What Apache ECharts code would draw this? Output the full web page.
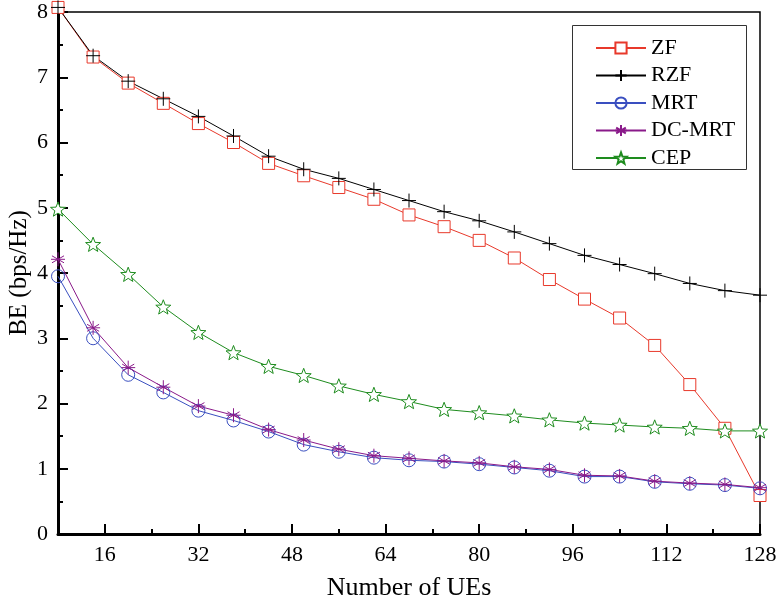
<!DOCTYPE html>
<html>
<head>
<meta charset="utf-8">
<script src="https://cdn.jsdelivr.net/npm/echarts@6/dist/echarts.min.js"></script>
<style>html,body{margin:0;padding:0;background:#fff}#c{width:778px;height:604px}</style>
</head>
<body>
<div id="c"></div>
<script>
const ues = [8,14,20,26,32,38,44,50,56,62,68,74,80,86,92,98,104,110,116,122,128];
const zf   = [8.07,7.31,6.91,6.60,6.29,6.00,5.68,5.49,5.31,5.13,4.89,4.71,4.50,4.23,3.90,3.60,3.31,2.89,2.29,1.62,0.59];
const rzf  = [8.07,7.33,6.94,6.67,6.40,6.10,5.79,5.59,5.45,5.28,5.11,4.94,4.80,4.63,4.45,4.27,4.13,3.99,3.84,3.73,3.66];
const mrt  = [3.95,3.00,2.44,2.17,1.89,1.74,1.57,1.37,1.26,1.17,1.13,1.11,1.07,1.02,0.97,0.88,0.88,0.80,0.77,0.75,0.70];
const dcmrt= [4.21,3.16,2.55,2.25,1.96,1.82,1.60,1.44,1.30,1.20,1.16,1.12,1.09,1.03,0.99,0.90,0.89,0.81,0.78,0.76,0.71];
const cep  = [4.98,4.44,3.98,3.48,3.09,2.78,2.57,2.43,2.27,2.14,2.03,1.91,1.86,1.81,1.75,1.70,1.67,1.64,1.62,1.58,1.58];
const xMajor = [16,32,48,64,80,96,112,128];

const FONT = "Liberation Serif, serif";
const pair = arr => arr.map((v,i)=>[ues[i], v]);
const PLUS = 'path://M0,5L10,5M5,0L5,10';
const AST = 'path://M5,0L5,10M0.7,2.5L9.3,7.5M0.7,7.5L9.3,2.5M0,5L10,5';
const STAR = 'path://M5,0L6.234,3.301L9.755,3.455L6.997,5.649L7.939,9.045L5,7.1L2.061,9.045L3.003,5.649L0.245,3.455L3.766,3.301Z';

function mk(name, data, color, symbol, size, fill){
  return {
    name, type:'line', xAxisIndex:0, data: pair(data), symbol, symbolSize: size, symbolKeepAspect:true,
    showAllSymbol:true, clip:false,
    lineStyle:{color, width:1},
    itemStyle:{color: fill, borderColor: color, borderWidth: 1},
    emphasis:{disabled:true}, animation:false
  };
}

const chart = echarts.init(document.getElementById('c'), null, {renderer:'canvas'});
chart.setOption({
  animation:false,
  backgroundColor:'#fff',
  textStyle:{fontFamily:FONT},
  grid:{left:58, right:18, top:12, bottom:70, containLabel:false, outerBoundsMode:'none',
        show:true, borderColor:'#000', borderWidth:1.5, backgroundColor:'transparent'},
  graphic:[{type:'rect', left:572, top:25, z:5,
    shape:{width:174, height:144}, style:{fill:'#fff', stroke:'#333', lineWidth:1}}],
  legend:{
    orient:'vertical', left:595, top:37, itemWidth:50, itemHeight:14, itemGap:5.5,
    padding:0, z:10,
    textStyle:{fontFamily:FONT, fontSize:22, color:'#000', lineHeight:22},
    data:['ZF','RZF','MRT','DC-MRT','CEP']
  },
  xAxis:[{
    type:'value', min:8, max:128,
    name:'Number of UEs', nameLocation:'middle', nameGap:41, nameMoveOverlap:false,
    nameTextStyle:{fontFamily:FONT, fontSize:26, color:'#000'},
    axisLine:{lineStyle:{color:'#000', width:3}},
    axisTick:{inside:true, length:10, customValues:xMajor, lineStyle:{color:'#000', width:2}},
    axisLabel:{customValues:xMajor, fontFamily:FONT, fontSize:22, color:'#000', margin:10},
    splitLine:{show:false}
  },{
    // offset scale (0..120 spans the same pixels as 8..128) used only to place the minor ticks at 24, 40, ... 120
    type:'value', min:0, max:120, interval:16, position:'bottom',
    axisLine:{show:false},
    axisTick:{show:true, inside:true, length:5, lineStyle:{color:'#000', width:2}},
    axisLabel:{show:false},
    splitLine:{show:false}
  }],
  yAxis:{
    type:'value', min:0, max:8, interval:1,
    name:'BE (bps/Hz)', nameLocation:'middle', nameGap:26, nameMoveOverlap:false,
    nameTextStyle:{fontFamily:FONT, fontSize:25, color:'#000'},
    axisLine:{show:true, lineStyle:{color:'#000', width:3}},
    axisTick:{show:true, inside:true, length:10, lineStyle:{color:'#000', width:2}},
    minorTick:{show:true, splitNumber:2, length:5, lineStyle:{color:'#000', width:2}},
    axisLabel:{fontFamily:FONT, fontSize:22, color:'#000', margin:10},
    splitLine:{show:false}, minorSplitLine:{show:false}
  },
  series:[
    mk('ZF', zf, '#e8392b', 'rect', 12, '#fff'),
    mk('RZF', rzf, '#000000', PLUS, 14, 'rgba(0,0,0,0)'),
    mk('MRT', mrt, '#3a4fc0', 'circle', 13, 'rgba(0,0,0,0)'),
    mk('DC-MRT', dcmrt, '#8a1a8a', AST, 14, 'rgba(0,0,0,0)'),
    mk('CEP', cep, '#1e8c1e', STAR, 15, '#fff')
  ]
});
</script>
</body>
</html>
